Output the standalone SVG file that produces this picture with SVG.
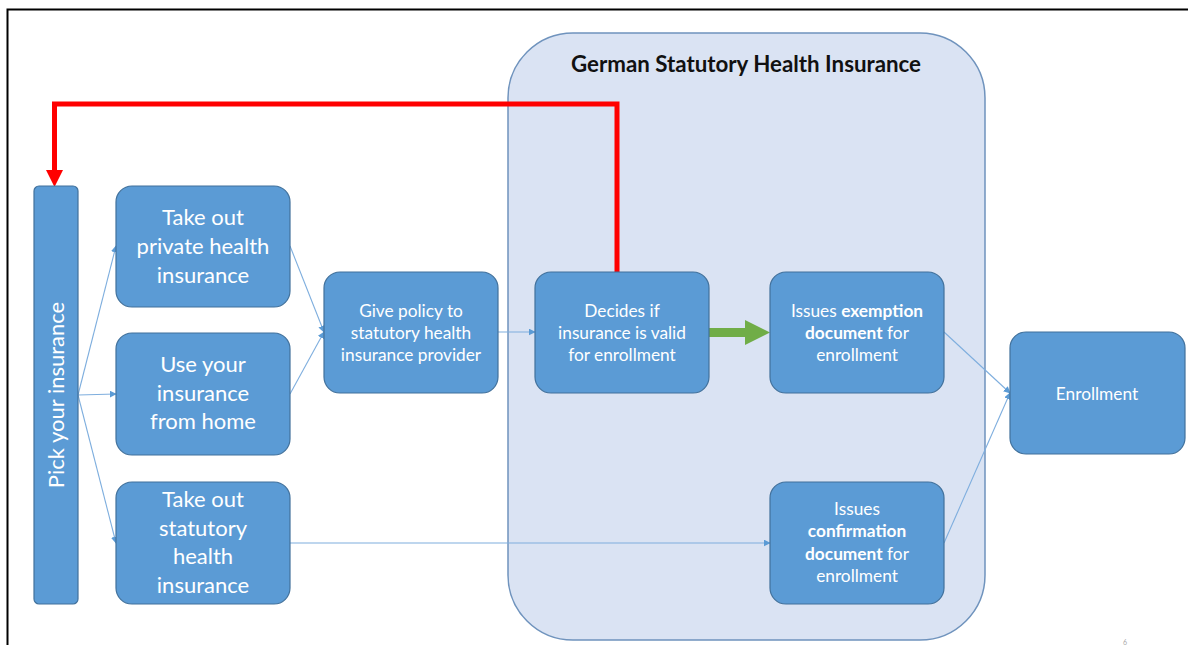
<svg xmlns="http://www.w3.org/2000/svg" width="1188" height="645" viewBox="0 0 1188 645">
<style>
.node{fill:#5b9bd5;stroke:#41719c;stroke-width:1.2}
.big{font-family:Lato,"Open Sans",sans-serif;font-size:22px;fill:#fff;text-anchor:middle}
.sm{font-family:Lato,"Open Sans",sans-serif;font-size:17.3px;fill:#fff;text-anchor:middle}
.conn{fill:none;stroke:#7eaede;stroke-width:1.1}
</style>
<defs>
<marker id="ah" viewBox="0 0 10 10" refX="9" refY="5" markerWidth="7" markerHeight="7" markerUnits="userSpaceOnUse" orient="auto">
<path d="M0,0 L10,5 L0,10 z" fill="#5b9bd5"/>
</marker>
</defs>
<rect width="1188" height="645" fill="#fff"/>
<path d="M7.5,645 V9.5 H1188" fill="none" stroke="#000" stroke-width="2"/>
<g id="container">
<rect x="508" y="33" width="477" height="607" rx="65" ry="65" fill="#dae3f3" stroke="#6f93bd" stroke-width="1.5"/>
<text x="746" y="72" font-family="Lato,'Open Sans',sans-serif" font-size="22.3" font-weight="bold" fill="#111" text-anchor="middle">German Statutory Health Insurance</text>
</g>
<g id="connectors">
<line class="conn" x1="78" y1="395" x2="116" y2="246" marker-end="url(#ah)"/>
<line class="conn" x1="78" y1="395" x2="116" y2="394" marker-end="url(#ah)"/>
<line class="conn" x1="78" y1="395" x2="116" y2="543" marker-end="url(#ah)"/>
<line class="conn" x1="290" y1="246" x2="324" y2="332" marker-end="url(#ah)"/>
<line class="conn" x1="290" y1="394" x2="324" y2="332" marker-end="url(#ah)"/>
<line class="conn" x1="498" y1="332" x2="535" y2="332" marker-end="url(#ah)"/>
<line class="conn" x1="290" y1="543" x2="770" y2="543" marker-end="url(#ah)"/>
<line class="conn" x1="944" y1="332" x2="1010" y2="393" marker-end="url(#ah)"/>
<line class="conn" x1="944" y1="543" x2="1010" y2="393" marker-end="url(#ah)"/>
<path d="M709,328 H745 V320 L770,332.5 L745,345 V337 H709 Z" fill="#70ad47"/>
<path d="M617,272 V104 H54.5 V172" fill="none" stroke="#ff0000" stroke-width="5"/>
<path d="M46,170 L63,170 L54.5,187 Z" fill="#ff0000"/>
</g>
<g id="pick">
<rect class="node" x="34" y="186" width="44" height="418" rx="5"/>
<text class="big" transform="translate(64,395) rotate(-90)">Pick your insurance</text>
</g>
<g id="private">
<rect class="node" x="116" y="186" width="174" height="121" rx="16"/>
<text class="big" x="203" y="225">Take out</text>
<text class="big" x="203" y="254">private health</text>
<text class="big" x="203" y="283">insurance</text>
</g>
<g id="home">
<rect class="node" x="116" y="333" width="174" height="122" rx="16"/>
<text class="big" x="203" y="372">Use your</text>
<text class="big" x="203" y="401">insurance</text>
<text class="big" x="203" y="429">from home</text>
</g>
<g id="statutory">
<rect class="node" x="116" y="482" width="174" height="122" rx="16"/>
<text class="big" x="203" y="507">Take out</text>
<text class="big" x="203" y="536">statutory</text>
<text class="big" x="203" y="564">health</text>
<text class="big" x="203" y="593">insurance</text>
</g>
<g id="give">
<rect class="node" x="324" y="272" width="174" height="121" rx="16"/>
<text class="sm" x="411" y="317">Give policy to</text>
<text class="sm" x="411" y="339">statutory health</text>
<text class="sm" x="411" y="361">insurance provider</text>
</g>
<g id="decides">
<rect class="node" x="535" y="272" width="174" height="121" rx="16"/>
<text class="sm" x="622" y="317">Decides if</text>
<text class="sm" x="622" y="339">insurance is valid</text>
<text class="sm" x="622" y="361">for enrollment</text>
</g>
<g id="exemption">
<rect class="node" x="770" y="272" width="174" height="121" rx="16"/>
<text class="sm" x="857" y="317">Issues <tspan font-weight="bold">exemption</tspan></text>
<text class="sm" x="857" y="339"><tspan font-weight="bold">document</tspan> for</text>
<text class="sm" x="857" y="361">enrollment</text>
</g>
<g id="confirmation">
<rect class="node" x="770" y="482" width="174" height="122" rx="16"/>
<text class="sm" x="857" y="515">Issues</text>
<text class="sm" x="857" y="537" font-weight="bold">confirmation</text>
<text class="sm" x="857" y="560"><tspan font-weight="bold">document</tspan> for</text>
<text class="sm" x="857" y="582">enrollment</text>
</g>
<g id="enrollment">
<rect class="node" x="1010" y="332" width="175" height="122" rx="16"/>
<text class="sm" x="1097" y="400">Enrollment</text>
</g>
<text x="1123" y="645" font-family="Lato,sans-serif" font-size="7" fill="#aaa">6</text>
</svg>
